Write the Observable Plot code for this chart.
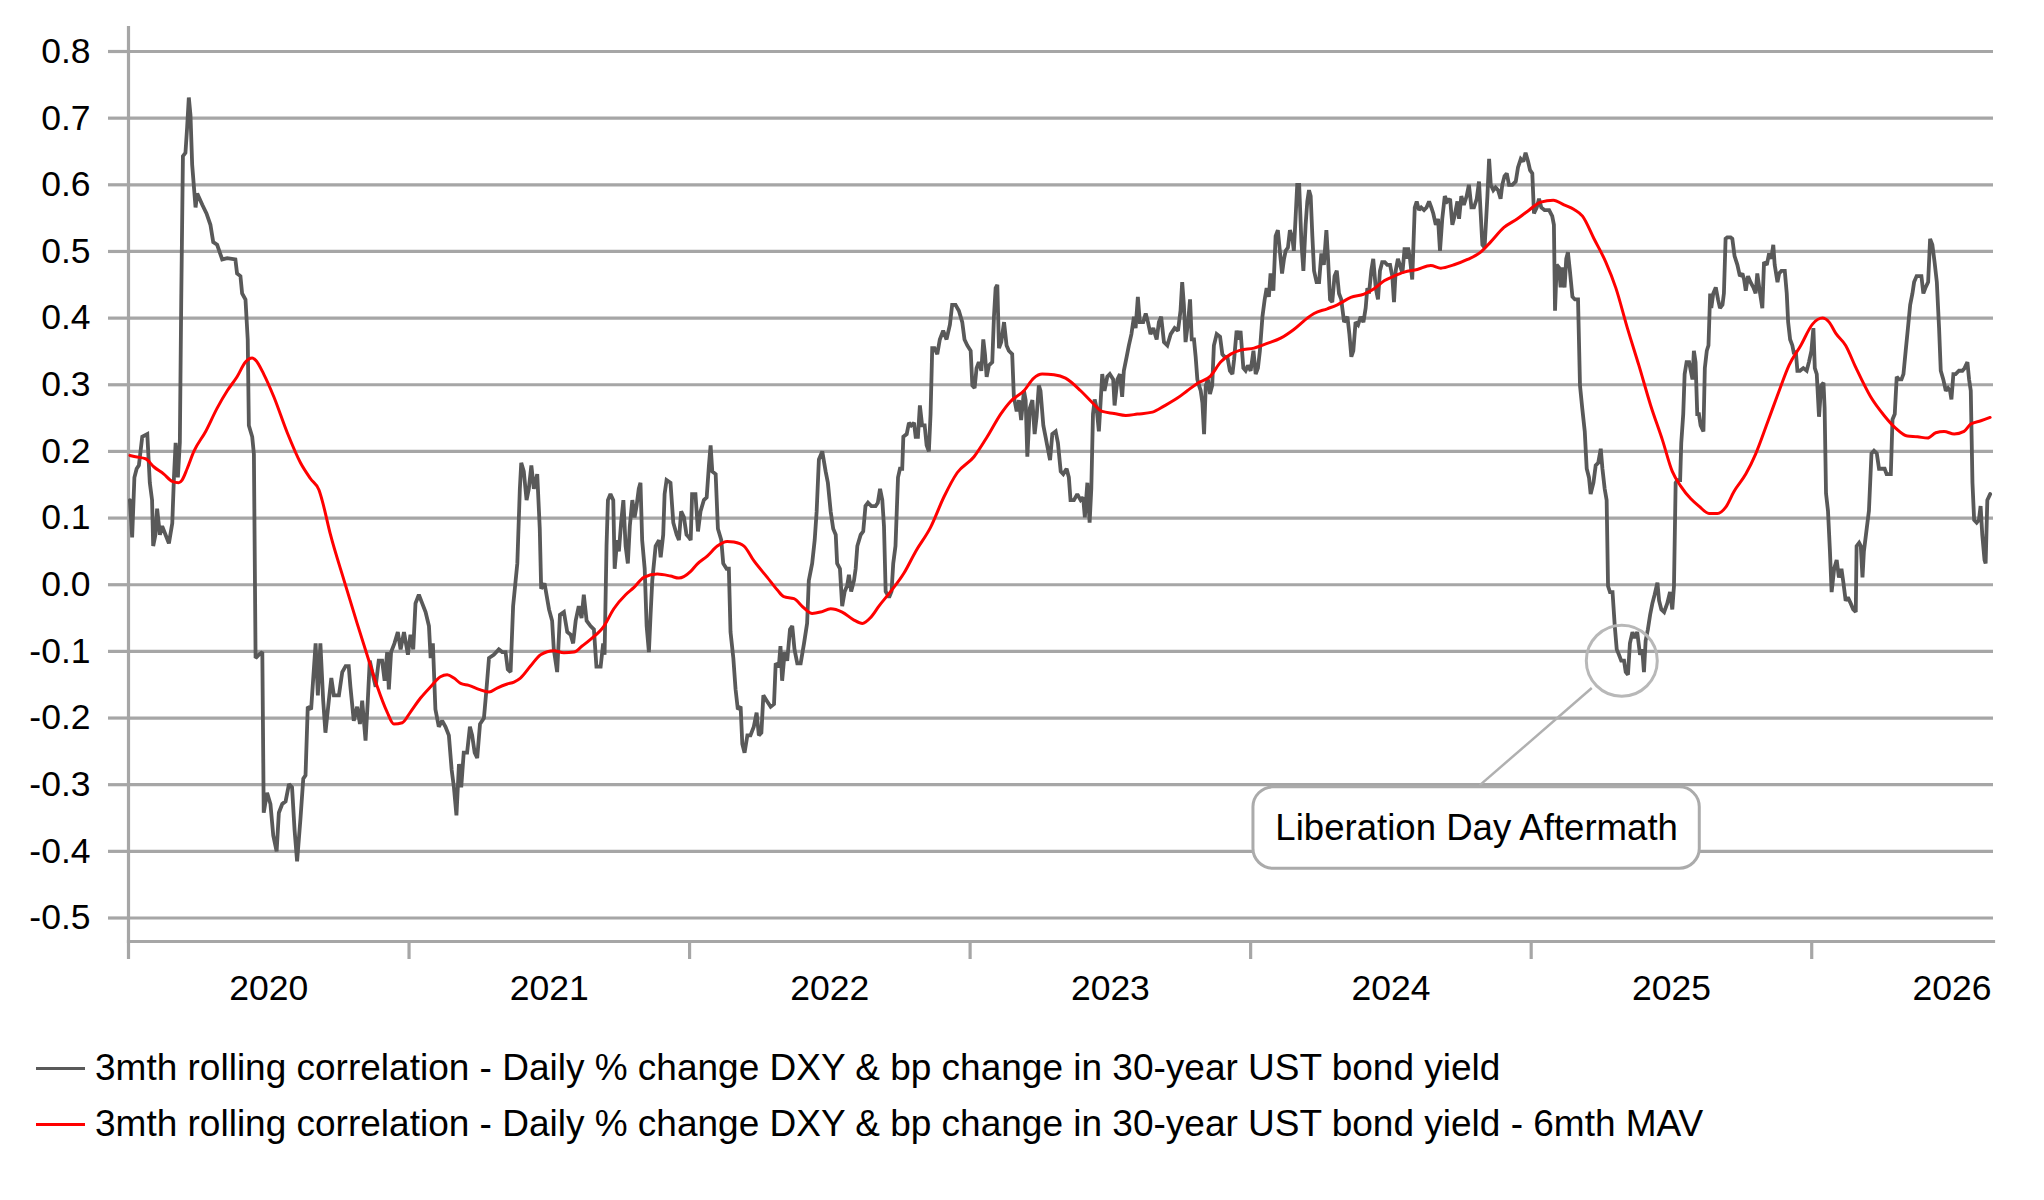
<!DOCTYPE html>
<html>
<head>
<meta charset="utf-8">
<script src="https://cdn.jsdelivr.net/npm/d3@7"></script>
<script src="https://cdn.jsdelivr.net/npm/@observablehq/plot@0.6"></script>
<style>
  html, body { margin: 0; padding: 0; background: #fff; }
  body { width: 2044px; height: 1200px; position: relative; font-family: "Liberation Sans", Arial, sans-serif; }
  #chart { position: absolute; left: 0; top: 0; }
  .leg { position: absolute; left: 36px; height: 40px; line-height: 40px; font-size: 37px; color: #000; white-space: nowrap; }
  .leg .sw { display: inline-block; width: 49px; height: 3px; vertical-align: middle; margin-right: 10px; position: relative; top: -2px; }
</style>
</head>
<body>
<div id="chart"></div>
<div class="leg" id="leg1" style="top:1048px"><span class="sw" style="background:#595959"></span><span class="lbl"></span></div>
<div class="leg" id="leg2" style="top:1104px"><span class="sw" style="background:#ff0000"></span><span class="lbl"></span></div>
<script>
// ---- data (x = years since start of 2020, value = correlation) ----
const BASE_YEAR = 2020;
const yearLabels = [2020, 2021, 2022, 2023, 2024, 2025, 2026];
const yTicks = [-0.5, -0.4, -0.3, -0.2, -0.1, 0.0, 0.1, 0.2, 0.3, 0.4, 0.5, 0.6, 0.7, 0.8];
const seriesNames = [
  "3mth rolling correlation - Daily % change DXY & bp change in 30-year UST bond yield",
  "3mth rolling correlation - Daily % change DXY & bp change in 30-year UST bond yield - 6mth MAV"
];
const xEnd = 6.648;

const rolling = [
[0.005,0.127],[0.013,0.071],[0.021,0.161],[0.029,0.174],[0.037,0.179],[0.049,0.222],[0.067,0.226],[0.076,0.153],[0.084,0.127],[0.088,0.058],[0.096,0.075],[0.102,0.114],[0.112,0.075],[0.120,0.088],[0.132,0.075],[0.144,0.062],[0.156,0.092],[0.162,0.161],[0.168,0.213],[0.176,0.161],[0.183,0.213],[0.188,0.428],[0.194,0.643],[0.203,0.648],[0.209,0.686],[0.215,0.731],[0.221,0.704],[0.227,0.630],[0.239,0.566],[0.245,0.587],[0.263,0.570],[0.278,0.557],[0.292,0.540],[0.302,0.514],[0.316,0.510],[0.334,0.488],[0.352,0.490],[0.381,0.488],[0.387,0.467],[0.399,0.463],[0.405,0.437],[0.417,0.428],[0.425,0.368],[0.429,0.239],[0.441,0.222],[0.447,0.196],[0.453,-0.110],[0.465,-0.105],[0.477,-0.101],[0.482,-0.342],[0.494,-0.312],[0.506,-0.329],[0.516,-0.376],[0.528,-0.400],[0.536,-0.342],[0.548,-0.329],[0.560,-0.325],[0.572,-0.299],[0.583,-0.304],[0.592,-0.368],[0.601,-0.415],[0.613,-0.351],[0.623,-0.291],[0.631,-0.286],[0.639,-0.183],[0.651,-0.187],[0.667,-0.088],[0.675,-0.166],[0.684,-0.088],[0.694,-0.174],[0.702,-0.222],[0.714,-0.174],[0.723,-0.140],[0.732,-0.166],[0.750,-0.166],[0.762,-0.131],[0.774,-0.122],[0.785,-0.122],[0.791,-0.153],[0.803,-0.204],[0.815,-0.183],[0.825,-0.209],[0.833,-0.174],[0.845,-0.234],[0.853,-0.174],[0.860,-0.114],[0.869,-0.131],[0.881,-0.153],[0.892,-0.114],[0.904,-0.114],[0.913,-0.144],[0.922,-0.101],[0.928,-0.157],[0.936,-0.101],[0.948,-0.088],[0.960,-0.071],[0.970,-0.097],[0.982,-0.071],[0.996,-0.105],[1.005,-0.075],[1.015,-0.097],[1.023,-0.028],[1.035,-0.015],[1.047,-0.028],[1.059,-0.041],[1.071,-0.062],[1.077,-0.110],[1.085,-0.088],[1.094,-0.187],[1.106,-0.213],[1.118,-0.204],[1.130,-0.213],[1.142,-0.226],[1.152,-0.278],[1.160,-0.304],[1.169,-0.346],[1.178,-0.269],[1.186,-0.304],[1.195,-0.252],[1.207,-0.252],[1.217,-0.213],[1.225,-0.226],[1.234,-0.252],[1.243,-0.260],[1.253,-0.209],[1.267,-0.200],[1.276,-0.157],[1.285,-0.110],[1.302,-0.105],[1.320,-0.097],[1.332,-0.101],[1.344,-0.101],[1.352,-0.127],[1.362,-0.131],[1.371,-0.032],[1.386,0.032],[1.395,0.144],[1.400,0.183],[1.409,0.170],[1.419,0.127],[1.427,0.144],[1.436,0.179],[1.445,0.144],[1.457,0.166],[1.466,0.084],[1.471,-0.006],[1.483,0.002],[1.499,-0.037],[1.510,-0.054],[1.516,-0.097],[1.528,-0.131],[1.538,-0.045],[1.552,-0.041],[1.564,-0.071],[1.576,-0.075],[1.585,-0.088],[1.594,-0.054],[1.605,-0.032],[1.615,-0.050],[1.623,-0.015],[1.633,-0.054],[1.647,-0.062],
[1.659,-0.067],[1.668,-0.123],[1.683,-0.123],[1.692,-0.088],[1.697,-0.105],[1.704,0.058],[1.709,0.127],[1.718,0.136],[1.728,0.127],[1.733,0.024],[1.742,0.067],[1.748,0.050],[1.756,0.093],[1.764,0.127],[1.772,0.058],[1.780,0.032],[1.787,0.088],[1.796,0.127],[1.804,0.101],[1.811,0.118],[1.819,0.144],[1.825,0.153],[1.831,0.067],[1.840,0.024],[1.847,-0.062],[1.855,-0.101],[1.861,-0.045],[1.867,0.006],[1.879,0.058],[1.891,0.067],[1.897,0.041],[1.906,0.075],[1.911,0.136],[1.918,0.157],[1.932,0.153],[1.942,0.093],[1.954,0.075],[1.962,0.067],[1.970,0.110],[1.980,0.101],[1.989,0.075],[1.998,0.071],[2.004,0.067],[2.009,0.136],[2.021,0.136],[2.030,0.080],[2.039,0.110],[2.051,0.127],[2.061,0.131],[2.069,0.179],[2.075,0.209],[2.081,0.170],[2.093,0.166],[2.101,0.084],[2.113,0.067],[2.120,0.032],[2.132,0.024],[2.140,0.024],[2.146,-0.071],[2.156,-0.110],[2.164,-0.157],[2.172,-0.187],[2.182,-0.183],[2.188,-0.239],[2.196,-0.252],[2.206,-0.226],[2.217,-0.226],[2.229,-0.213],[2.239,-0.192],[2.247,-0.226],[2.256,-0.222],[2.263,-0.166],[2.275,-0.174],[2.289,-0.183],[2.301,-0.179],[2.307,-0.118],[2.318,-0.123],[2.324,-0.092],[2.330,-0.144],[2.339,-0.101],[2.348,-0.114],[2.358,-0.067],[2.366,-0.062],[2.374,-0.097],[2.384,-0.118],[2.396,-0.118],[2.408,-0.088],[2.419,-0.058],[2.425,0.006],[2.437,0.032],[2.446,0.067],[2.453,0.110],[2.461,0.188],[2.473,0.200],[2.485,0.170],[2.493,0.153],[2.503,0.110],[2.512,0.084],[2.521,0.075],[2.526,0.032],[2.536,0.024],[2.544,-0.032],[2.553,-0.010],[2.562,-0.001],[2.568,0.015],[2.576,-0.010],[2.586,0.006],[2.592,0.024],[2.598,0.058],[2.610,0.075],[2.619,0.080],[2.627,0.118],[2.636,0.123],[2.648,0.118],[2.663,0.118],[2.671,0.123],[2.679,0.144],[2.687,0.127],[2.693,0.088],[2.699,-0.010],[2.711,-0.019],[2.720,-0.010],[2.726,0.032],[2.734,0.058],[2.743,0.161],[2.750,0.174],[2.758,0.174],[2.762,0.222],[2.774,0.226],[2.782,0.243],[2.790,0.239],[2.800,0.243],[2.806,0.222],[2.814,0.222],[2.821,0.269],[2.829,0.239],[2.838,0.239],[2.845,0.209],[2.853,0.200],[2.859,0.256],[2.865,0.355],[2.873,0.355],[2.883,0.346],[2.892,0.368],[2.904,0.381],[2.916,0.368],[2.928,0.390],[2.936,0.420],[2.948,0.420],[2.960,0.411],[2.972,0.394],[2.980,0.368],[2.990,0.359],[3.002,0.351],[3.008,0.299],[3.016,0.295],[3.023,0.325],[3.031,0.334],[3.040,0.321],[3.047,0.368],[3.053,0.346],[3.059,0.312],[3.067,0.329],[3.079,0.334],[3.085,0.402],[3.091,0.445],[3.097,0.450],[3.103,0.355],[3.111,0.364],[3.121,0.394],[3.130,0.359],[3.138,0.351],[3.150,0.346],[3.156,0.282],[3.166,0.260],[3.174,0.277],[3.182,0.247],[3.192,0.291],[3.198,0.277],[3.204,0.192],[3.213,0.265],[3.222,0.277],[3.230,0.226],[3.237,0.252],[3.245,0.299],[3.251,0.291],[3.261,0.239],[3.269,0.222],[3.277,0.204],[3.285,0.187],[3.293,0.226],[3.305,0.230],[3.313,0.213],[3.323,0.170],[3.332,0.166],[3.344,0.174],[3.352,0.161],[3.358,0.127],
[3.370,0.127],[3.382,0.136],[3.394,0.127],[3.403,0.131],[3.409,0.101],[3.418,0.153],[3.426,0.093],[3.432,0.144],[3.438,0.256],[3.444,0.278],[3.451,0.265],[3.459,0.230],[3.465,0.273],[3.471,0.316],[3.479,0.291],[3.489,0.312],[3.498,0.316],[3.510,0.308],[3.515,0.269],[3.525,0.308],[3.534,0.316],[3.542,0.282],[3.548,0.321],[3.558,0.342],[3.566,0.359],[3.575,0.376],[3.584,0.402],[3.590,0.385],[3.598,0.432],[3.605,0.394],[3.617,0.394],[3.626,0.407],[3.634,0.394],[3.643,0.376],[3.653,0.385],[3.665,0.368],[3.673,0.394],[3.681,0.402],[3.691,0.364],[3.703,0.359],[3.715,0.376],[3.729,0.385],[3.741,0.381],[3.750,0.411],[3.756,0.454],[3.762,0.420],[3.768,0.364],[3.777,0.394],[3.784,0.428],[3.790,0.368],[3.798,0.368],[3.804,0.342],[3.810,0.308],[3.816,0.299],[3.822,0.291],[3.828,0.273],[3.834,0.226],[3.840,0.299],[3.848,0.308],[3.855,0.286],[3.863,0.299],[3.869,0.359],[3.879,0.376],[3.891,0.372],[3.899,0.346],[3.907,0.342],[3.917,0.342],[3.926,0.321],[3.935,0.316],[3.941,0.338],[3.950,0.381],[3.958,0.368],[3.964,0.381],[3.974,0.325],[3.982,0.321],[3.990,0.329],[4.000,0.321],[4.010,0.351],[4.018,0.316],[4.026,0.325],[4.033,0.351],[4.042,0.402],[4.050,0.428],[4.057,0.445],[4.065,0.432],[4.071,0.467],[4.081,0.441],[4.089,0.523],[4.097,0.532],[4.105,0.497],[4.112,0.467],[4.119,0.489],[4.125,0.501],[4.133,0.506],[4.140,0.532],[4.149,0.519],[4.154,0.501],[4.160,0.549],[4.166,0.600],[4.173,0.600],[4.181,0.514],[4.188,0.471],[4.196,0.540],[4.202,0.575],[4.208,0.592],[4.214,0.583],[4.220,0.523],[4.226,0.471],[4.235,0.454],[4.244,0.454],[4.252,0.497],[4.261,0.480],[4.270,0.532],[4.276,0.489],[4.283,0.428],[4.291,0.424],[4.299,0.463],[4.307,0.471],[4.315,0.437],[4.323,0.428],[4.333,0.394],[4.345,0.402],[4.352,0.376],[4.359,0.342],[4.366,0.351],[4.374,0.394],[4.383,0.390],[4.392,0.402],[4.402,0.394],[4.410,0.415],[4.416,0.445],[4.422,0.437],[4.430,0.471],[4.437,0.489],[4.446,0.445],[4.454,0.428],[4.461,0.471],[4.469,0.484],[4.478,0.484],[4.487,0.480],[4.497,0.480],[4.505,0.463],[4.511,0.424],[4.517,0.471],[4.525,0.489],[4.532,0.480],[4.541,0.467],[4.549,0.506],[4.556,0.489],[4.561,0.506],[4.568,0.489],[4.576,0.458],[4.585,0.566],[4.592,0.575],[4.600,0.562],[4.608,0.566],[4.618,0.562],[4.627,0.566],[4.636,0.575],[4.644,0.566],[4.651,0.557],[4.660,0.540],[4.668,0.549],[4.675,0.501],[4.683,0.549],[4.692,0.583],[4.701,0.575],[4.711,0.579],[4.719,0.540],[4.727,0.553],[4.737,0.575],[4.743,0.549],[4.751,0.583],[4.760,0.570],[4.770,0.583],[4.778,0.600],[4.787,0.566],[4.796,0.566],[4.806,0.579],[4.814,0.605],[4.820,0.557],[4.826,0.510],[4.834,0.506],[4.844,0.583],[4.850,0.639],[4.856,0.600],[4.865,0.592],[4.873,0.596],[4.882,0.592],[4.891,0.579],[4.897,0.600],[4.905,0.613],[4.913,0.617],[4.921,0.600],[4.933,0.600],[4.945,0.605],[4.953,0.626],[4.963,0.639],[4.972,0.635],[4.980,0.648],[4.989,0.635],[4.996,0.622],[5.004,0.617],[5.010,0.557],[5.020,0.566],[5.028,0.579],
[5.036,0.566],[5.048,0.562],[5.064,0.562],[5.075,0.553],[5.081,0.540],[5.085,0.411],[5.091,0.480],[5.099,0.476],[5.105,0.446],[5.111,0.476],[5.119,0.446],[5.125,0.489],[5.131,0.499],[5.138,0.471],[5.147,0.432],[5.156,0.428],[5.167,0.428],[5.174,0.299],[5.182,0.265],[5.191,0.230],[5.198,0.174],[5.206,0.161],[5.212,0.136],[5.222,0.153],[5.230,0.179],[5.239,0.183],[5.248,0.204],[5.254,0.174],[5.262,0.144],[5.269,0.127],[5.274,-0.002],[5.281,-0.011],[5.290,-0.011],[5.298,-0.062],[5.305,-0.097],[5.313,-0.105],[5.321,-0.114],[5.331,-0.114],[5.337,-0.131],[5.345,-0.135],[5.352,-0.088],[5.361,-0.071],[5.369,-0.080],[5.378,-0.071],[5.388,-0.105],[5.396,-0.097],[5.402,-0.131],[5.408,-0.084],[5.416,-0.067],[5.424,-0.045],[5.432,-0.028],[5.440,-0.015],[5.450,0.003],[5.456,-0.024],[5.464,-0.037],[5.474,-0.041],[5.485,-0.028],[5.495,-0.011],[5.503,-0.037],[5.509,-0.002],[5.515,0.153],[5.521,0.157],[5.531,0.157],[5.535,0.213],[5.542,0.256],[5.547,0.316],[5.554,0.334],[5.563,0.334],[5.569,0.321],[5.575,0.308],[5.580,0.351],[5.586,0.334],[5.592,0.256],[5.598,0.256],[5.604,0.239],[5.614,0.230],[5.619,0.325],[5.626,0.351],[5.632,0.359],[5.638,0.437],[5.642,0.415],[5.649,0.437],[5.658,0.446],[5.666,0.428],[5.673,0.415],[5.682,0.420],[5.687,0.437],[5.693,0.519],[5.699,0.521],[5.711,0.521],[5.717,0.519],[5.725,0.493],[5.735,0.480],[5.744,0.463],[5.753,0.467],[5.759,0.458],[5.765,0.441],[5.773,0.463],[5.782,0.454],[5.792,0.446],[5.800,0.437],[5.806,0.467],[5.816,0.437],[5.824,0.415],[5.830,0.484],[5.840,0.480],[5.848,0.497],[5.856,0.489],[5.863,0.510],[5.868,0.480],[5.878,0.454],[5.884,0.467],[5.892,0.471],[5.904,0.471],[5.911,0.437],[5.916,0.394],[5.923,0.368],[5.931,0.359],[5.937,0.346],[5.943,0.351],[5.949,0.321],[5.958,0.321],[5.970,0.325],[5.982,0.321],[5.990,0.334],[5.999,0.351],[6.006,0.385],[6.011,0.325],[6.018,0.316],[6.026,0.252],[6.034,0.299],[6.042,0.303],[6.046,0.265],[6.051,0.137],[6.058,0.111],[6.065,0.050],[6.071,-0.011],[6.080,0.024],[6.089,0.037],[6.097,0.011],[6.106,0.024],[6.113,0.003],[6.121,-0.024],[6.129,-0.019],[6.139,-0.028],[6.148,-0.037],[6.157,-0.041],[6.160,0.058],[6.169,0.063],[6.175,0.058],[6.181,0.011],[6.186,0.050],[6.196,0.084],[6.204,0.111],[6.213,0.197],[6.222,0.201],[6.232,0.197],[6.240,0.174],[6.252,0.174],[6.260,0.174],[6.267,0.166],[6.282,0.166],[6.288,0.248],[6.296,0.256],[6.303,0.312],[6.311,0.308],[6.320,0.308],[6.327,0.316],[6.335,0.351],[6.343,0.385],[6.351,0.420],[6.359,0.437],[6.365,0.454],[6.374,0.463],[6.383,0.463],[6.391,0.463],[6.398,0.437],[6.406,0.446],[6.415,0.454],[6.422,0.519],[6.430,0.510],[6.438,0.484],[6.446,0.454],[6.454,0.385],[6.460,0.321],[6.469,0.308],[6.478,0.291],[6.486,0.295],[6.493,0.291],[6.498,0.278],[6.505,0.316],[6.513,0.316],[6.525,0.321],[6.537,0.321],[6.545,0.325],[6.555,0.334],[6.561,0.308],[6.567,0.291],[6.573,0.153],[6.579,0.097],[6.588,0.093],[6.596,0.097],[6.602,0.118],[6.608,0.075],[6.616,0.037],[6.620,0.032],[6.626,0.127],[6.636,0.136]
];

const mav = [
[0.005,0.194],[0.025,0.192],[0.061,0.189],[0.090,0.177],[0.126,0.166],[0.156,0.155],[0.179,0.153],[0.191,0.157],[0.209,0.174],[0.233,0.200],[0.275,0.230],[0.316,0.265],[0.352,0.291],[0.387,0.312],[0.417,0.334],[0.441,0.340],[0.453,0.337],[0.482,0.316],[0.518,0.282],[0.566,0.228],[0.613,0.183],[0.649,0.159],[0.679,0.142],[0.690,0.127],[0.720,0.075],[0.768,0.007],[0.815,-0.058],[0.857,-0.114],[0.887,-0.153],[0.922,-0.191],[0.946,-0.209],[0.976,-0.207],[1.005,-0.191],[1.041,-0.170],[1.077,-0.153],[1.112,-0.138],[1.136,-0.135],[1.160,-0.140],[1.184,-0.148],[1.213,-0.151],[1.249,-0.157],[1.285,-0.161],[1.314,-0.155],[1.350,-0.149],[1.374,-0.146],[1.397,-0.140],[1.433,-0.122],[1.469,-0.105],[1.516,-0.099],[1.552,-0.102],[1.588,-0.101],[1.617,-0.092],[1.647,-0.082],[1.695,-0.062],[1.730,-0.036],[1.772,-0.015],[1.802,-0.004],[1.837,0.011],[1.885,0.016],[1.932,0.013],[1.962,0.010],[2.004,0.020],[2.027,0.031],[2.063,0.043],[2.099,0.058],[2.134,0.065],[2.158,0.064],[2.194,0.058],[2.229,0.036],[2.277,0.011],[2.313,-0.008],[2.336,-0.018],[2.372,-0.021],[2.408,-0.035],[2.437,-0.043],[2.467,-0.041],[2.503,-0.036],[2.544,-0.041],[2.586,-0.053],[2.616,-0.058],[2.646,-0.049],[2.675,-0.032],[2.717,-0.010],[2.765,0.018],[2.806,0.050],[2.859,0.086],[2.907,0.132],[2.954,0.168],[3.014,0.192],[3.061,0.222],[3.109,0.256],[3.144,0.275],[3.192,0.291],[3.227,0.310],[3.257,0.316],[3.299,0.315],[3.340,0.310],[3.394,0.291],[3.436,0.273],[3.471,0.260],[3.513,0.257],[3.555,0.254],[3.596,0.256],[3.650,0.259],[3.691,0.268],[3.739,0.280],[3.774,0.291],[3.810,0.302],[3.857,0.313],[3.893,0.334],[3.929,0.346],[3.964,0.352],[4.012,0.355],[4.059,0.362],[4.107,0.370],[4.154,0.383],[4.202,0.400],[4.226,0.407],[4.273,0.414],[4.309,0.420],[4.357,0.431],[4.404,0.436],[4.440,0.444],[4.476,0.456],[4.511,0.463],[4.547,0.469],[4.594,0.473],[4.642,0.479],[4.678,0.475],[4.725,0.480],[4.773,0.488],[4.820,0.499],[4.855,0.514],[4.903,0.536],[4.951,0.549],[4.986,0.560],[5.034,0.574],[5.079,0.577],[5.117,0.570],[5.153,0.563],[5.183,0.553],[5.224,0.519],[5.266,0.484],[5.302,0.445],[5.343,0.385],[5.384,0.329],[5.426,0.269],[5.468,0.217],[5.503,0.170],[5.533,0.148],[5.569,0.129],[5.598,0.118],[5.634,0.107],[5.664,0.107],[5.693,0.116],[5.723,0.140],[5.765,0.166],[5.800,0.196],[5.842,0.243],[5.884,0.291],[5.919,0.329],[5.961,0.359],[6.003,0.391],[6.038,0.400],[6.062,0.394],[6.086,0.377],[6.121,0.359],[6.157,0.326],[6.210,0.282],[6.258,0.254],[6.299,0.235],[6.341,0.223],[6.377,0.222],[6.413,0.220],[6.442,0.228],[6.472,0.230],[6.508,0.226],[6.543,0.230],[6.567,0.241],[6.603,0.246],[6.636,0.251]
];

// annotation (data coordinates)
const noteText = "Liberation Day Aftermath";
const noteBox = [{x1: 4.010, x2: 5.601, y1: -0.304, y2: -0.426}];
const noteCircle = [{x: 5.323, y: -0.114}];
const noteLink = [{x1: 4.816, y1: -0.301, x2: 5.216, y2: -0.155}];

// ---- chart ----
const GRID = "#a6a6a6";
const FONT = "'Liberation Sans', Arial, sans-serif";
const rollData = rolling.map(([t, v]) => ({x: BASE_YEAR + t, y: v}));
const mavData = mav.map(([t, v]) => ({x: BASE_YEAR + t, y: v}));
const shift = d => ({...d, x1: BASE_YEAR + d.x1, x2: BASE_YEAR + d.x2});

const plot = Plot.plot({
  width: 2044,
  height: 1020,
  marginLeft: 128,
  marginRight: 51,
  marginTop: 26,
  marginBottom: 79,
  style: {fontFamily: FONT, color: "#000", background: "#fff"},
  x: {type: "linear", domain: [BASE_YEAR, BASE_YEAR + xEnd], axis: null},
  y: {domain: [-0.5, 0.8], range: [917.5, 51], axis: null},
  marks: [
    Plot.gridY(yTicks, {stroke: GRID, strokeOpacity: 1, strokeWidth: 3.2}),
    Plot.axisY(yTicks, {tickSize: 20, tickPadding: 18, stroke: GRID, strokeWidth: 3.2, fill: "#000",
      fontSize: 35.5, tickFormat: d => d.toFixed(1), label: null}),
    Plot.ruleX([BASE_YEAR], {stroke: GRID, strokeWidth: 3.2}),
    Plot.frame({anchor: "bottom", stroke: GRID, strokeWidth: 3.2}),
    Plot.axisX(yearLabels, {tickSize: 18, stroke: GRID, strokeWidth: 3.2, tickFormat: () => "", label: null}),
    Plot.axisX(yearLabels.map(y => y + 0.5), {tickSize: 0, tickPadding: 33, fill: "#000", fontSize: 35.5,
      tickFormat: d => String(Math.floor(d)), label: null}),
    Plot.lineY(rollData, {x: "x", y: "y", stroke: "#595959", strokeWidth: 3.8, curve: "linear", strokeLinejoin: "miter", strokeMiterlimit: 2}),
    Plot.lineY(mavData, {x: "x", y: "y", stroke: "#ff0000", strokeWidth: 3, curve: "monotone-x"}),
    Plot.link(noteLink.map(shift), {x1: "x1", y1: "y1", x2: "x2", y2: "y2", stroke: "#b0b0b0", strokeWidth: 2.5}),
    Plot.rect(noteBox.map(shift), {x1: "x1", x2: "x2", y1: "y1", y2: "y2", fill: "#fff", stroke: "#ababab", strokeWidth: 3, rx: 20, ry: 20}),
    Plot.text(noteBox.map(shift), {x: d => (d.x1 + d.x2) / 2, y: d => (d.y1 + d.y2) / 2, text: () => noteText,
      fontSize: 36.6, fill: "#000"}),
    Plot.dot(noteCircle.map(d => ({...d, x: BASE_YEAR + d.x})), {x: "x", y: "y", r: 35.5, stroke: "#b8b8b8", strokeWidth: 3, fill: "none"})
  ]
});
document.getElementById("chart").appendChild(plot);
document.querySelector("#leg1 .lbl").textContent = seriesNames[0];
document.querySelector("#leg2 .lbl").textContent = seriesNames[1];
</script>
</body>
</html>
